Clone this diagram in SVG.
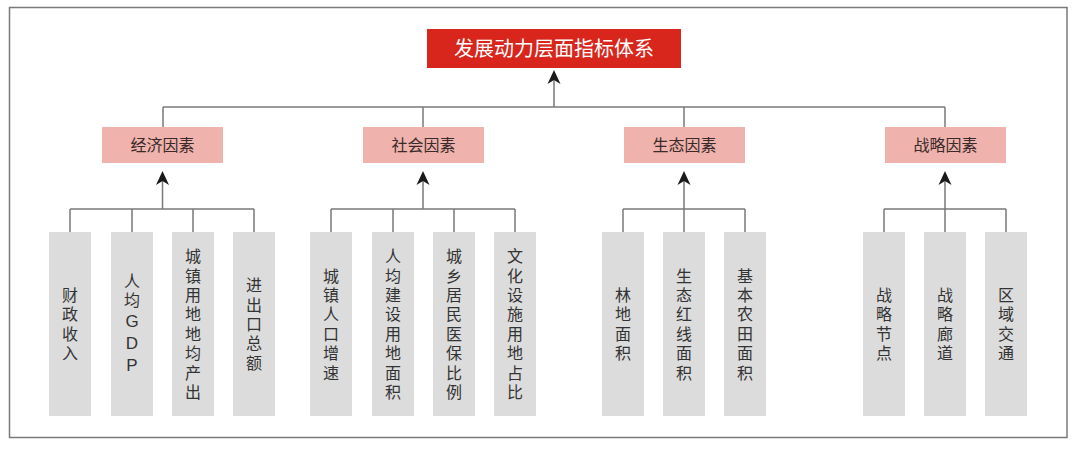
<svg xmlns="http://www.w3.org/2000/svg" width="1080" height="449" viewBox="0 0 1080 449">
<style>
.frame{fill:#fff;stroke:#7a7a7a;stroke-width:1.5}
.title{fill:#d8261d}
.cat{fill:#efb2ac}
.leaf{fill:#dcdcdc}
.ln{fill:none;stroke:#7a7a7a;stroke-width:1.5}
.ah{fill:#1a1a1a}
.tt{font-family:"Noto Sans CJK SC","Noto Sans",sans-serif;font-size:20px;fill:#fff;text-anchor:middle}
.ct{font-family:"Noto Sans CJK SC","Noto Sans",sans-serif;font-size:16px;fill:#3a2a2a;text-anchor:middle}
.lt{font-family:"Noto Sans CJK SC","Noto Sans",sans-serif;font-size:16px;fill:#333;text-anchor:middle;writing-mode:vertical-rl;text-orientation:upright;letter-spacing:3.4px}
.lat{font-family:"Liberation Sans",Arial,sans-serif;font-size:17px}
</style>
<rect x="0" y="0" width="1080" height="449" fill="#fff"/>
<rect class="frame" x="9.5" y="7.5" width="1057.5" height="430"/>

<g id="connectors">
<path class="ln" d="M163 107 H945 M163 107 V127 M423 107 V127 M684 107 V127 M945 107 V127 M554 107 V78"/>
<path class="ln" d="M70 209 H254 M70 209 V232 M132 209 V232 M193 209 V232 M254 209 V232"/>
<path class="ln" d="M331 209 H515 M331 209 V232 M393 209 V232 M454 209 V232 M515 209 V232"/>
<path class="ln" d="M623 209 H745 M623 209 V232 M684 209 V232 M745 209 V232"/>
<path class="ln" d="M884 209 H1006 M884 209 V232 M945 209 V232 M1006 209 V232"/>
<path class="ln" d="M162.5 209 V180 M423 209 V180 M684 209 V180 M945 209 V180"/>
<path class="ah" d="M554 70 L560.5 84 L554 80 L547.5 84 Z"/>
<path class="ah" d="M162.5 171 L169 185 L162.5 181 L156 185 Z"/>
<path class="ah" d="M423 171 L429.5 185 L423 181 L416.5 185 Z"/>
<path class="ah" d="M684 171 L690.5 185 L684 181 L677.5 185 Z"/>
<path class="ah" d="M945 171 L951.5 185 L945 181 L938.5 185 Z"/>
</g>

<g id="root">
<rect class="title" x="427" y="29" width="254" height="39"/>
<text class="tt" x="554" y="55.5">发展动力层面指标体系</text>
</g>

<g id="cat-econ"><rect class="cat" x="102" y="127" width="121" height="36"/><text class="ct" x="162.5" y="150.5">经济因素</text></g>
<g id="cat-social"><rect class="cat" x="363" y="127" width="121" height="36"/><text class="ct" x="423.5" y="150.5">社会因素</text></g>
<g id="cat-eco"><rect class="cat" x="624" y="127" width="121" height="36"/><text class="ct" x="684.5" y="150.5">生态因素</text></g>
<g id="cat-strat"><rect class="cat" x="885" y="127" width="121" height="36"/><text class="ct" x="945.5" y="150.5">战略因素</text></g>

<g id="leaf-1"><rect class="leaf" x="49" y="232" width="42" height="184"/><text class="lt" x="70" y="325.7">财政收入</text></g>
<g id="leaf-2"><rect class="leaf" x="111" y="232" width="42" height="184"/><text class="lt" x="132" y="325.7">人均<tspan class="lat">GDP</tspan></text></g>
<g id="leaf-3"><rect class="leaf" x="172" y="232" width="42" height="184"/><text class="lt" x="193" y="325.7">城镇用地地均产出</text></g>
<g id="leaf-4"><rect class="leaf" x="233" y="232" width="42" height="184"/><text class="lt" x="254" y="325.7">进出口总额</text></g>

<g id="leaf-5"><rect class="leaf" x="310" y="232" width="42" height="184"/><text class="lt" x="331" y="325.7">城镇人口增速</text></g>
<g id="leaf-6"><rect class="leaf" x="372" y="232" width="42" height="184"/><text class="lt" x="393" y="325.7">人均建设用地面积</text></g>
<g id="leaf-7"><rect class="leaf" x="433" y="232" width="42" height="184"/><text class="lt" x="454" y="325.7">城乡居民医保比例</text></g>
<g id="leaf-8"><rect class="leaf" x="494" y="232" width="42" height="184"/><text class="lt" x="515" y="325.7">文化设施用地占比</text></g>

<g id="leaf-9"><rect class="leaf" x="602" y="232" width="42" height="184"/><text class="lt" x="623" y="325.7">林地面积</text></g>
<g id="leaf-10"><rect class="leaf" x="663" y="232" width="42" height="184"/><text class="lt" x="684" y="325.7">生态红线面积</text></g>
<g id="leaf-11"><rect class="leaf" x="724" y="232" width="42" height="184"/><text class="lt" x="745" y="325.7">基本农田面积</text></g>

<g id="leaf-12"><rect class="leaf" x="863" y="232" width="42" height="184"/><text class="lt" x="884" y="325.7">战略节点</text></g>
<g id="leaf-13"><rect class="leaf" x="924" y="232" width="42" height="184"/><text class="lt" x="945" y="325.7">战略廊道</text></g>
<g id="leaf-14"><rect class="leaf" x="985" y="232" width="42" height="184"/><text class="lt" x="1006" y="325.7">区域交通</text></g>
</svg>
